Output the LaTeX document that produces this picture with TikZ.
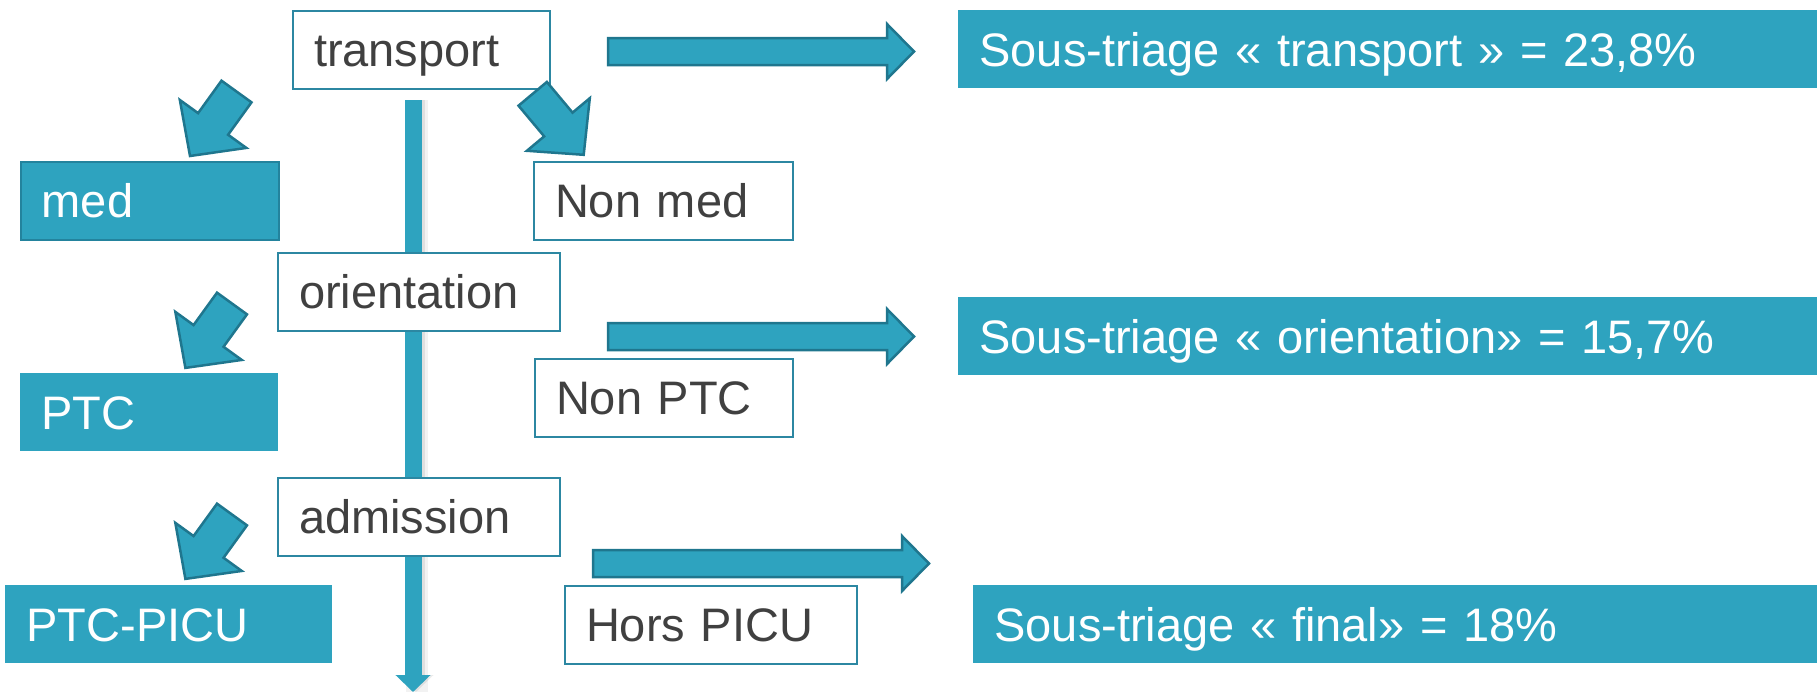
\documentclass[tikz,border=0pt]{standalone}
\usepackage{fontspec}
\setmainfont{Liberation Sans}
\usetikzlibrary{arrows.meta}
\definecolor{tealfill}{RGB}{46,163,191}
\definecolor{tealdark}{RGB}{31,118,142}
\definecolor{tealedge}{RGB}{44,135,162}
\definecolor{txtgray}{RGB}{64,64,64}

\begin{document}
\begin{tikzpicture}[x=0.5pt,y=0.5pt,
  every node/.style={font=\fontsize{23.5pt}{28pt}\selectfont},
  basebox/.style={rectangle, anchor=north west, inner xsep=10.5pt, inner ysep=0pt,
    minimum height=39pt, text height=16.8pt, text depth=0pt, align=left},
  outlinebox/.style={basebox, draw=tealedge, line width=1pt, fill=white, text=txtgray},
  filledbox/.style={basebox, fill=tealfill, text=white},
  blockarrow/.style={fill=tealfill, draw=tealdark, line width=1.25pt, line join=miter},
  flowline/.style={line width=8.5pt, -{Triangle[width=17pt,length=8.5pt]}},
  pics/slantarrow/.style={code={
    \draw[blockarrow] (0,18.5) -- (40,18.5) -- (40,41) -- (79.5,0) -- (40,-41)
      -- (40,-18.5) -- (0,-18.5) -- cycle;}},
  pics/rightarrow/.style={code={
    \draw[blockarrow] (0,13.5) -- (#1-27,13.5) -- (#1-27,27.5) -- (#1,0)
      -- (#1-27,-27.5) -- (#1-27,-13.5) -- (0,-13.5) -- cycle;}},
]
\useasboundingbox (0,0) rectangle (1817,-693);

% main vertical flow line, with a soft shadow on its right
\coordinate (vtop) at (413,-100);
\coordinate (vend) at (413,-692);
\draw[line width=11pt, black, opacity=0.05] ([xshift=2pt]vtop) -- ([xshift=2pt]vend);
\draw[flowline, black, opacity=0.08] ([xshift=1.5pt]vtop) -- ([xshift=1.5pt]vend);
\draw[flowline, tealfill] (vtop) -- (vend);

% decision steps
\node[outlinebox, text width=107.5pt] (transport) at (292,-10) {transport};
\node[outlinebox, text width=120pt] (orientation) at (277,-252) {orientation};
\node[outlinebox, text width=120pt] (admission) at (277,-477) {admission};

% outcomes
\node[filledbox, draw=tealdark!70!tealfill, line width=0.75pt, text width=108pt] (med) at (20,-161) {med};
\node[outlinebox, text width=108.5pt] (nonmed) at (533,-161) {Non med};
\node[filledbox, text width=108pt] (ptc) at (20,-373) {PTC};
\node[outlinebox, text width=108pt] (nonptc) at (534,-358) {Non PTC};
\node[filledbox, text width=142.5pt] (ptcpicu) at (5,-585) {PTC-PICU};
\node[outlinebox, text width=125pt] (horspicu) at (564,-585) {Hors PICU};

% under-triage rates
\node[filledbox, text width=408.5pt] (st1) at (958,-10) {Sous-triage « transport » = 23,8\%};
\node[filledbox, text width=408.5pt] (st2) at (958,-297) {Sous-triage « orientation» = 15,7\%};
\node[filledbox, text width=401pt] (st3) at (973,-585) {Sous-triage « final» = 18\%};

% slanted block arrows towards the outcomes
\pic[rotate=234.2] at (236.5,-91.5) {slantarrow};
\pic[rotate=-50.1] at (532.7,-93.8) {slantarrow};
\pic[rotate=234.1] at (232,-303.5) {slantarrow};
\pic[rotate=234.1] at (232,-514.5) {slantarrow};

% block arrows towards the rates
\pic at (608,-51.5) {rightarrow=306};
\pic at (608,-336.5) {rightarrow=306};
\pic at (593,-563.5) {rightarrow=336};
\end{tikzpicture}
\end{document}
